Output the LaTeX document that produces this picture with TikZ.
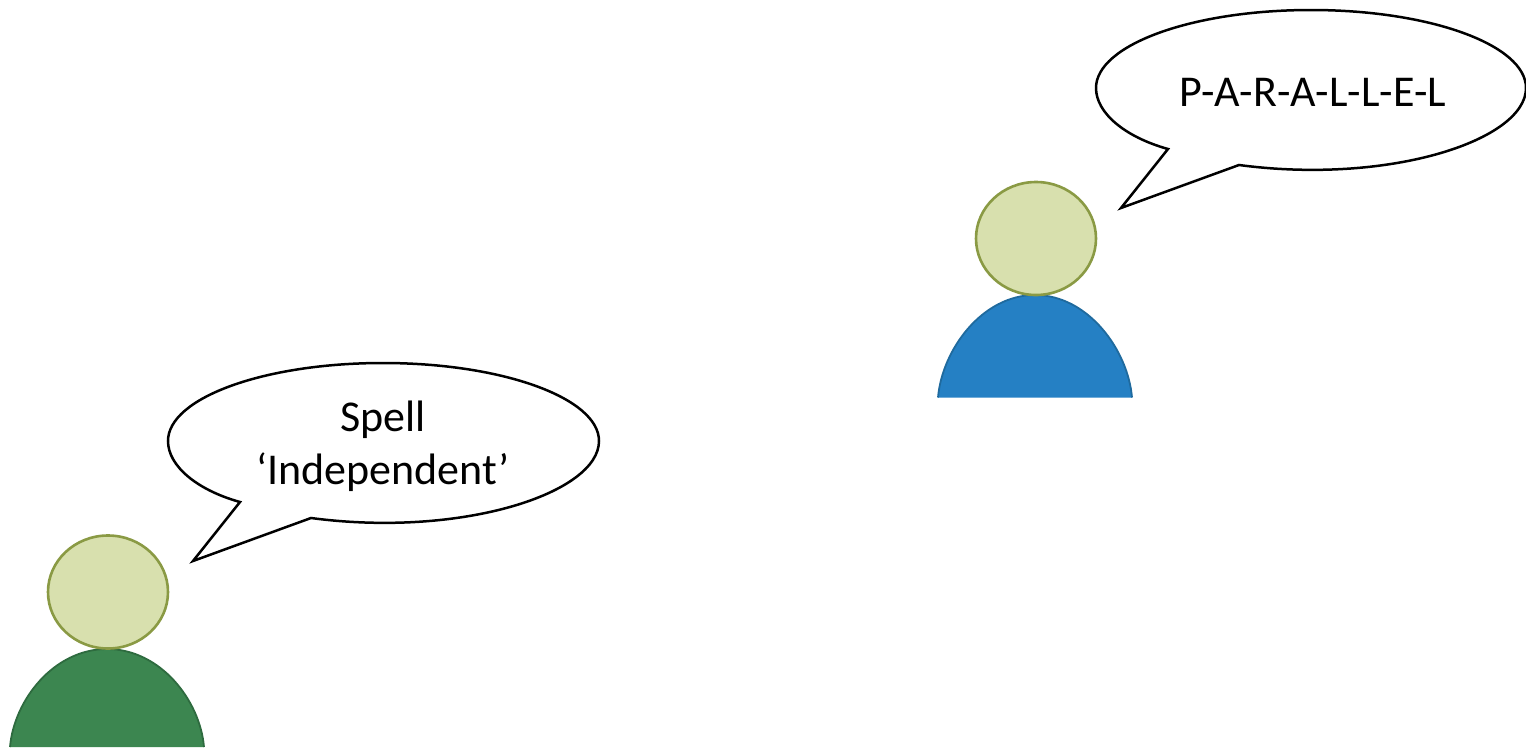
\documentclass[tikz,border=0pt]{standalone}
\usepackage{fontspec}
\setmainfont{Carlito}
\usetikzlibrary{shapes.geometric}
\definecolor{headfill}{HTML}{D8E0AE}
\definecolor{headline}{HTML}{8A9A44}
\definecolor{bluefill}{HTML}{2580C4}
\definecolor{blueline}{HTML}{1F6A9E}
\definecolor{greenfill}{HTML}{3C8650}
\definecolor{greenline}{HTML}{2E6B3F}
\begin{document}
\begin{tikzpicture}[
	x=1pt, y=-1pt,
	every node/.style={font=\fontsize{44}{53}\selectfont},
	head/.style={ellipse, draw=headline, fill=headfill, line width=2.6pt, minimum width=120pt, minimum height=113pt, inner sep=0pt},
	bubble/.style={draw=black, fill=white, line width=2.5pt},
	bodyshape/.style={line width=1.8pt},
	saying/.style={align=center, inner sep=0pt}
	]
	\useasboundingbox (0,0) rectangle (1526,747);
	
	%--- right person ---
	\fill[bluefill] (938,397.5) .. controls (942,350) and (982,295) .. (1035,295) .. controls (1088,295) and (1128,350) .. (1132,397.5) -- cycle;
	\draw[blueline, bodyshape] (938,397.5) .. controls (942,350) and (982,295) .. (1035,295) .. controls (1088,295) and (1128,350) .. (1132,397.5);
	\node[head] (headR) at (1036,238.5) {};
	\draw[bubble] (1168,149) -- (1121,208) -- (1239,165)
		.. controls (1390,185) and (1526,140) .. (1526,88)
		.. controls (1526,45) and (1430,10) .. (1311,10)
		.. controls (1192,10) and (1096,45) .. (1096,88)
		.. controls (1096,113) and (1125,137) .. (1168,149) -- cycle;
	\node[saying] (textR) at (1313,92) {P-A-R-A-L-L-E-L};
	
	%--- left person ---
	\fill[greenfill] (10,747) .. controls (14,700) and (54,649) .. (107,649) .. controls (160,649) and (200,700) .. (204,747) -- cycle;
	\draw[greenline, bodyshape] (10,747) .. controls (14,700) and (54,649) .. (107,649) .. controls (160,649) and (200,700) .. (204,747);
	\node[head] (headL) at (108,592) {};
	\draw[bubble] (240,502) -- (193,561) -- (311,518)
		.. controls (462,538) and (599,493) .. (599,441)
		.. controls (599,398) and (502,363) .. (383,363)
		.. controls (264,363) and (168,398) .. (168,441)
		.. controls (168,466) and (197,490) .. (240,502) -- cycle;
	\node[saying] (textL) at (383,446) {Spell\\‘Independent’};
\end{tikzpicture}
\end{document}
